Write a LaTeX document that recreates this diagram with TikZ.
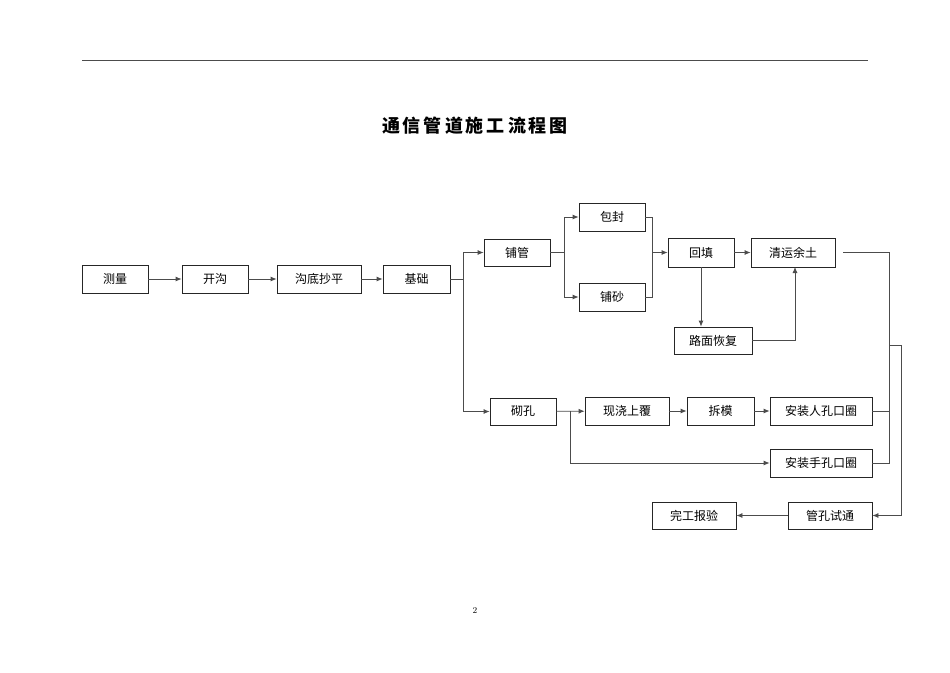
\documentclass[tikz,border=0pt]{standalone}
\usepackage{fontspec}
\newfontfamily\cjk{Noto Sans CJK SC}
\usetikzlibrary{arrows.meta}
\begin{document}
\begin{tikzpicture}[x=1pt,y=-1pt,
  box/.style={draw=black!85,line width=0.8pt,font=\cjk\fontsize{12}{14}\selectfont,inner sep=0pt},
  ln/.style={draw=black!70,line width=0.8pt},
  arr/.style={ln,-{Latex[length=6pt,width=5pt]}}]
\useasboundingbox (0,0) rectangle (950,672);
\fill[white] (0,0) rectangle (950,672);
\draw[black!70,line width=0.8pt] (82,60) -- (868,60);
\node[font=\cjk\bfseries\fontsize{18}{20}\selectfont] (title) at (475,126) {通\,信\,管\,道\,施\,工\,流\,程\,图};
\node[font=\fontsize{9}{10}\selectfont] (pg) at (475,610) {2};
\newcommand\bx[6]{\node[box,minimum width=#4-#3,minimum height=#6-#5] (#1) at ({(#3+#4)/2},{(#5+#6)/2}) {#2};}
\bx{a}{测量}{82}{148}{265}{293}
\bx{b}{开沟}{182}{248}{265}{293}
\bx{c}{沟底抄平}{277}{361}{265}{293}
\bx{d}{基础}{383}{450}{265}{293}
\bx{e}{铺管}{484}{550}{239}{266}
\bx{f}{砌孔}{490}{556}{398}{425}
\bx{g}{包封}{579}{645}{203}{231}
\bx{h}{铺砂}{579}{645}{283}{311}
\bx{i}{回填}{668}{734}{238}{267}
\bx{j}{清运余土}{751}{835}{238}{267}
\bx{k}{路面恢复}{674}{752}{327}{354}
\bx{l}{现浇上覆}{585}{669}{397}{425}
\bx{m}{拆模}{687}{754}{397}{425}
\bx{n}{安装人孔口圈}{770}{872}{397}{425}
\bx{o}{安装手孔口圈}{770}{872}{449}{477}
\bx{p}{管孔试通}{788}{872}{502}{529}
\bx{q}{完工报验}{652}{736}{502}{529}
\draw[arr] (a) -- (b);
\draw[arr] (b) -- (c);
\draw[arr] (c) -- (d);
\draw[ln] (d.east) -- (463,279);
\draw[arr] (463,279) |- (e.west);
\draw[arr] (463,279) |- (f.west);
\draw[ln] (e.east) -- (564,252.5);
\draw[arr] (564,252.5) |- (g.west);
\draw[arr] (564,252.5) |- (h.west);
\draw[ln] (g.east) -- (652,217) -- (652,297) -- (h.east);
\draw[arr] (652,252.5) -- (i.west);
\draw[arr] (i) -- (j);
\draw[arr] (i.south) -- (k.north -| i.south);
\draw[arr] (k.east) -| (795,267);
\draw[ln] (843,252.5) -- (889,252.5) -- (889,463) -- (o.east);
\draw[ln] (n.east) -- (889,411);
\draw[ln] (889,345) -- (901,345);
\draw[arr] (901,345) |- (p.east);
\draw[arr] (f) -- (l);
\draw[arr] (570,411) |- (o.west);
\draw[arr] (l) -- (m);
\draw[arr] (m) -- (n);
\draw[arr] (p) -- (q);
\end{tikzpicture}
\end{document}
